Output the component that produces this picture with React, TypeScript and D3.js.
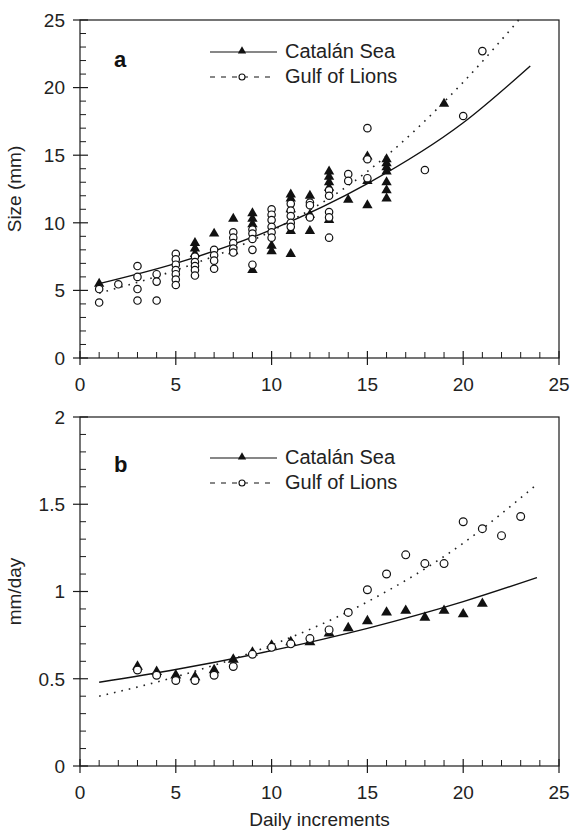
import React from 'react';
import * as d3 from 'd3';

const W = 572;
const H = 833;
const FONT = 'Liberation Sans, Arial, sans-serif';

// panel a: size (mm) against daily increments
const catalanSize: [number, number][] = [
  [1, 5.5],
  [6, 8.5], [6, 8.1], [6, 7.7],
  [7, 9.2],
  [8, 10.3], [8, 7.9],
  [9, 10.7], [9, 10.3], [9, 9.9], [9, 6.5],
  [10, 8.3], [10, 7.9],
  [11, 12.1], [11, 11.8], [11, 11.0], [11, 9.4], [11, 7.7],
  [12, 12.0], [12, 10.6], [12, 9.4],
  [13, 13.8], [13, 13.4], [13, 13.0], [13, 12.6], [13, 10.2],
  [14, 11.7],
  [15, 14.9], [15, 13.1], [15, 11.3],
  [16, 14.7], [16, 14.4], [16, 14.1], [16, 13.8], [16, 13.0], [16, 12.4], [16, 11.8],
  [19, 18.8],
];

const gulfSize: [number, number][] = [
  [1, 5.1], [1, 4.1],
  [2, 5.45],
  [3, 6.8], [3, 6.0], [3, 5.1], [3, 4.25],
  [4, 6.2], [4, 5.65], [4, 4.25],
  [5, 7.7], [5, 7.3], [5, 6.9], [5, 6.5], [5, 6.2], [5, 5.8], [5, 5.4],
  [6, 7.5], [6, 7.1], [6, 6.8], [6, 6.5], [6, 6.1],
  [7, 8.0], [7, 7.6], [7, 7.2], [7, 6.6],
  [8, 9.3], [8, 8.9], [8, 8.5], [8, 8.1], [8, 7.8],
  [9, 9.5], [9, 9.2], [9, 8.8], [9, 8.0], [9, 6.9],
  [10, 11.0], [10, 10.6], [10, 10.2], [10, 9.7], [10, 9.3], [10, 8.9],
  [11, 11.4], [11, 10.9], [11, 10.5], [11, 10.0], [11, 9.7],
  [12, 11.5], [12, 11.3], [12, 10.4],
  [13, 12.4], [13, 12.0], [13, 10.8], [13, 10.4], [13, 8.9],
  [14, 13.6], [14, 13.1],
  [15, 17.0], [15, 14.7], [15, 13.3],
  [18, 13.9],
  [20, 17.9],
  [21, 22.7],
];

// fitted curves
const catalanSizeFit: [number, number][] = [[1, 5.5], [5, 7.0], [10, 9.5], [15, 12.9], [20, 17.4], [23.5, 21.6]];
const gulfSizeFit: [number, number][] = [[1, 4.8], [5, 6.5], [10, 9.4], [15, 13.8], [20, 20.4], [22.9, 25]];

// panel b: growth rate (mm/day)
const catalanRate: [number, number][] = [
  [3, 0.57], [4, 0.54], [5, 0.52], [6, 0.51], [7, 0.55], [8, 0.61], [9, 0.65],
  [10, 0.69], [11, 0.71], [12, 0.71], [13, 0.76], [14, 0.79], [15, 0.83],
  [16, 0.88], [17, 0.89], [18, 0.85], [19, 0.89], [20, 0.87], [21, 0.93],
];
const gulfRate: [number, number][] = [
  [3, 0.55], [4, 0.52], [5, 0.49], [6, 0.49], [7, 0.52], [8, 0.57], [9, 0.64],
  [10, 0.68], [11, 0.70], [12, 0.73], [13, 0.78], [14, 0.88], [15, 1.01],
  [16, 1.10], [17, 1.21], [18, 1.16], [19, 1.16], [20, 1.40], [21, 1.36],
  [22, 1.32], [23, 1.43],
];
const catalanRateFit: [number, number][] = [[1, 0.48], [5, 0.553], [10, 0.661], [15, 0.789], [20, 0.942], [23.85, 1.08]];
const gulfRateFit: [number, number][] = [[1, 0.4], [5, 0.511], [10, 0.693], [15, 0.941], [20, 1.277], [23.8, 1.61]];

const xTicks = [0, 5, 10, 15, 20, 25];
const sizeTicks = [0, 5, 10, 15, 20, 25];
const rateTicks = [0, 0.5, 1, 1.5, 2];

const seriesNames = ['Catalán Sea', 'Gulf of Lions'];

const tri = d3.symbol().type(d3.symbolTriangle);

type PanelProps = {
  top: number;
  bottom: number;
  yTicks: number[];
  yMinorStep: number;
  yTitle: string;
  letter: string;
  letterY: number;
  legendY: number;
  labelY: number;
  cat: [number, number][];
  gulf: [number, number][];
  catFit: [number, number][];
  gulfFit: [number, number][];
  r: number;
};

const Panel = (p: PanelProps) => {
  const x = d3.scaleLinear().domain([0, 25]).range([80, 559]);
  const yMax = p.yTicks[p.yTicks.length - 1];
  const y = d3.scaleLinear().domain([0, yMax]).range([p.bottom, p.top]);
  const line = d3
    .line<[number, number]>()
    .x(d => x(d[0]))
    .y(d => y(d[1]))
    .curve(d3.curveMonotoneX);

  const xMinor = d3.range(0, 26).filter(v => v % 5 !== 0);
  const nMinor = Math.round(yMax / p.yMinorStep);
  const yMinor = d3.range(0, nMinor + 1).map(i => i * p.yMinorStep).filter((_, i) => i % 5 !== 0);
  const stroke = '#1a1a1a';

  return (
    <g>
      {/* frame */}
      <rect x={x(0)} y={p.top} width={x(25) - x(0)} height={p.bottom - p.top} fill="none" stroke={stroke} strokeWidth={1.2} />
      {xTicks.map(v => (
        <g key={'xt' + v}>
          <line x1={x(v)} x2={x(v)} y1={p.bottom - 7} y2={p.bottom + 7} stroke={stroke} strokeWidth={1.2} />
          <text x={x(v)} y={p.labelY} textAnchor="middle" fontSize={19} fontFamily={FONT} fill="#222">{v}</text>
        </g>
      ))}
      {xMinor.map(v => (
        <line key={'xm' + v} x1={x(v)} x2={x(v)} y1={p.bottom} y2={p.bottom - 6} stroke={stroke} strokeWidth={1} />
      ))}
      {p.yTicks.map(v => (
        <g key={'yt' + v}>
          <line x1={x(0) - 7} x2={x(0) + 8} y1={y(v)} y2={y(v)} stroke={stroke} strokeWidth={1.2} />
          <text x={65} y={y(v)} dy="0.36em" textAnchor="end" fontSize={19} fontFamily={FONT} fill="#222">{v}</text>
        </g>
      ))}
      {yMinor.map(v => (
        <line key={'ym' + v} x1={x(0)} x2={x(0) + 6} y1={y(v)} y2={y(v)} stroke={stroke} strokeWidth={1} />
      ))}
      <text
        transform={`translate(21,${(p.top + p.bottom) / 2}) rotate(-90)`}
        textAnchor="middle"
        fontSize={19}
        fontFamily={FONT}
        fill="#222"
      >
        {p.yTitle}
      </text>
      <text x={114} y={p.letterY} fontSize={22} fontWeight="bold" fontFamily={FONT} fill="#111">{p.letter}</text>

      {/* fitted curves */}
      <path d={line(p.catFit) || ''} fill="none" stroke="#111" strokeWidth={1.4} />
      <path d={line(p.gulfFit) || ''} fill="none" stroke="#222" strokeWidth={1.6} strokeDasharray="1.6,6" />

      {/* points */}
      {p.cat.map((d, i) => (
        <path key={'c' + i} d={tri.size(p.r * p.r * 3.4)() || ''} transform={`translate(${x(d[0])},${y(d[1])})`} fill="#111" />
      ))}
      {p.gulf.map((d, i) => (
        <circle key={'g' + i} cx={x(d[0])} cy={y(d[1])} r={p.r} fill="white" stroke="#111" strokeWidth={1.2} />
      ))}

      {/* legend */}
      <line x1={210} x2={277} y1={p.legendY} y2={p.legendY} stroke="#111" strokeWidth={1.2} />
      <path d={tri.size(30)() || ''} transform={`translate(242,${p.legendY - 1})`} fill="#111" />
      <text x={285} y={p.legendY + 6} fontSize={20} fontFamily={FONT} fill="#222">{seriesNames[0]}</text>
      <line x1={210} x2={272} y1={p.legendY + 25} y2={p.legendY + 25} stroke="#111" strokeWidth={1.1} strokeDasharray="5,6" />
      <circle cx={242} cy={p.legendY + 25} r={3} fill="white" stroke="#111" strokeWidth={1.1} />
      <text x={285} y={p.legendY + 31} fontSize={20} fontFamily={FONT} fill="#222">{seriesNames[1]}</text>
    </g>
  );
};

export default function App() {
  return (
    <svg width={W} height={H} style={{ position: 'absolute', left: 0, top: 0, background: 'white' }}>
      <Panel
        top={20}
        bottom={358}
        yTicks={sizeTicks}
        yMinorStep={1}
        yTitle="Size (mm)"
        letter="a"
        letterY={67}
        legendY={52}
        labelY={391}
        cat={catalanSize}
        gulf={gulfSize}
        catFit={catalanSizeFit}
        gulfFit={gulfSizeFit}
        r={3.7}
      />
      <Panel
        top={417}
        bottom={766}
        yTicks={rateTicks}
        yMinorStep={0.1}
        yTitle="mm/day"
        letter="b"
        letterY={472}
        legendY={458}
        labelY={799}
        cat={catalanRate}
        gulf={gulfRate}
        catFit={catalanRateFit}
        gulfFit={gulfRateFit}
        r={3.9}
      />
      <text x={319.5} y={826} textAnchor="middle" fontSize={19} fontFamily={FONT} fill="#222">Daily increments</text>
    </svg>
  );
}
